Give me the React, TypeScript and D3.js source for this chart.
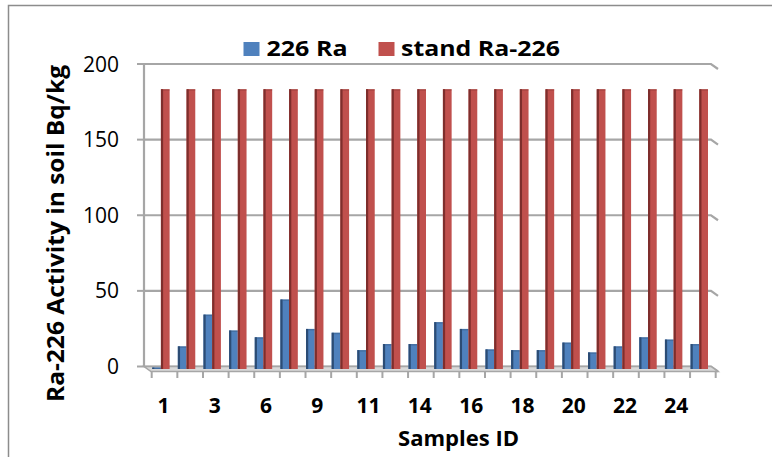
import React from "react";
import * as d3 from "d3";

const categories = ["1","2","3","5","6","8","9","10","11","13","14","15","16","17","18","19","20","21","22","23","24","25"];
const raValues = [1, 15, 36, 25.5, 21, 46, 26.5, 24, 12.5, 16.5, 16.5, 31, 26.5, 13, 12.5, 12.5, 17.5, 11, 15, 21, 19.5, 16.5];
const standValues = categories.map(() => 185);
const yTicks = [0, 50, 100, 150, 200];
const seriesNames = ["226 Ra", "stand Ra-226"];
const seriesColors = ["#4F81BD", "#C0504D"];
const seriesDark = ["#2C4C74", "#7E2E2C"];

const W = 772, H = 457;
const wallL = 144, wallR = 711, dx = 7, dy = 5;
const FONT = "'Open Sans', 'DejaVu Sans', sans-serif";

export default function App() {
  React.useEffect(() => {
    document.body.style.margin = "0";
    document.body.style.overflow = "hidden";
  }, []);

  const yWall = d3.scaleLinear().domain([0, 200]).range([366.5, 64]);
  const yBar = d3.scaleLinear().domain([0, 200]).range([369, 66.5]);
  const x = d3.scaleBand<string>().domain(categories).range([151.7, 715.7]).paddingInner(0).paddingOuter(0);
  const bw = x.bandwidth();
  const inner = d3.scaleBand<number>().domain([0, 1]).range([0.5, 0.5 + bw * 0.68]).padding(0);
  const sw = inner.bandwidth();
  const series = [raValues, standValues];

  const floorBack = yWall(0);
  const floorFront = floorBack + dy;

  return (
    <svg width={W} height={H} style={{ position: "absolute", left: 0, top: 0, background: "#fff" }}>
      <rect x={8.5} y={5.5} width={900} height={600} fill="#fff" stroke="#8C8C8C" strokeWidth={1.5} />

      {/* back wall gridlines */}
      {yTicks.map((t) => (
        <g key={"g" + t}>
          <polyline
            points={`${wallL},${yWall(t)} ${wallR},${yWall(t)} ${wallR + dx},${yWall(t) + dy}`}
            fill="none" stroke="#A6A6A6" strokeWidth={2.2} />
          <line x1={137} x2={wallL} y1={yWall(t)} y2={yWall(t)} stroke="#A6A6A6" strokeWidth={2} />
          <text x={119} y={yWall(t) + 7.5} textAnchor="end" fontFamily={FONT} fontSize={21} fill="#000">{t}</text>
        </g>
      ))}
      {/* left wall line */}
      <line x1={wallL} x2={wallL} y1={yWall(200) - 1} y2={floorBack} stroke="#A6A6A6" strokeWidth={2.2} />

      {/* floor */}
      <polygon
        points={`${wallL},${floorBack} ${wallR},${floorBack} ${wallR + dx},${floorFront} ${wallL + dx},${floorFront}`}
        fill="#D9D9D9" stroke="#A6A6A6" strokeWidth={1.5} />
      {/* category ticks */}
      {[...categories.map((c) => x(c)!), 715.7].map((px, i) => (
        <line key={"t" + i} x1={px} x2={px} y1={floorFront} y2={378} stroke="#A6A6A6" strokeWidth={2} />
      ))}

      {/* bars */}
      {categories.map((c, i) => (
        <g key={"c" + c}>
          {series.map((vals, s) => {
            const bx = x(c)! + inner(s)!;
            const top = yBar(vals[i]);
            const h = yBar(0) - top;
            return (
              <g key={s}>
                <rect x={bx} y={top} width={sw} height={h} fill={seriesColors[s]} />
                <rect x={bx} y={top} width={2.2} height={h} fill={seriesDark[s]} />
                <rect x={bx + 2.2} y={top} width={sw - 2.2} height={Math.min(1.5, h)} fill={seriesDark[s]} opacity={0.35} />
              </g>
            );
          })}
        </g>
      ))}

      {/* x labels */}
      {categories.map((c, i) =>
        i % 2 === 0 ? (
          <text key={"l" + c} x={x(c)! + bw / 2 - 1} y={413} textAnchor="middle" fontFamily={FONT}
            fontWeight="bold" fontSize={21} fill="#000">{c}</text>
        ) : null
      )}

      {/* axis titles */}
      <text x={458.5} y={446} textAnchor="middle" fontFamily={FONT} fontWeight="bold" fontSize={21}
        textLength={121} lengthAdjust="spacingAndGlyphs" fill="#000">Samples ID</text>
      <text transform={`translate(63.5,233.5) rotate(-90)`} textAnchor="middle" fontFamily={FONT}
        fontWeight="bold" fontSize={22.5} textLength={337} lengthAdjust="spacingAndGlyphs" fill="#000">
        Ra-226 Activity in soil Bq/kg
      </text>

      {/* legend */}
      <rect x={243.5} y={42} width={16} height={14} fill={seriesColors[0]} />
      <text x={266.5} y={56} fontFamily={FONT} fontWeight="bold" fontSize={22} textLength={81}
        lengthAdjust="spacingAndGlyphs" fill="#000">{seriesNames[0]}</text>
      <rect x={378.5} y={42} width={16} height={14} fill={seriesColors[1]} />
      <text x={401} y={56} fontFamily={FONT} fontWeight="bold" fontSize={22} textLength={159}
        lengthAdjust="spacingAndGlyphs" fill="#000">{seriesNames[1]}</text>
    </svg>
  );
}
